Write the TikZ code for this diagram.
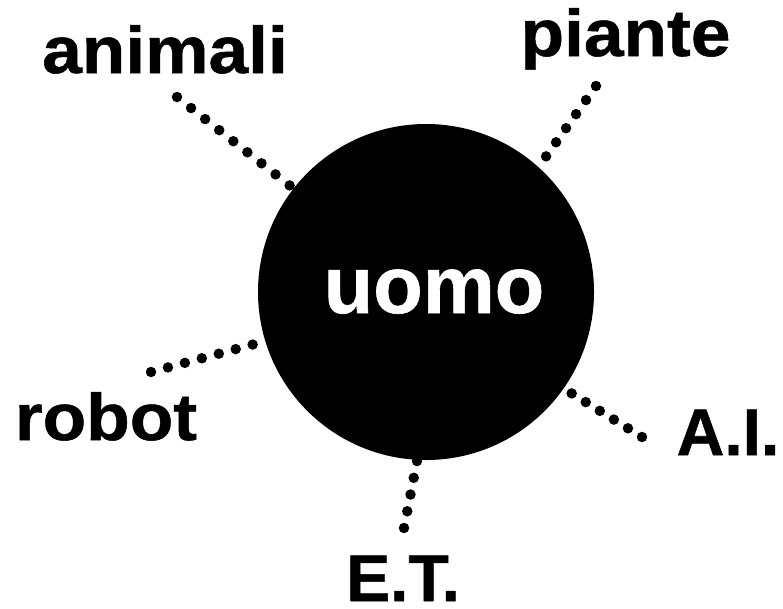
\documentclass[tikz,border=0pt]{standalone}
\usepackage{fontspec}
\setmainfont{Liberation Sans}
\newfontfamily\widefont[FakeStretch=1.08, FakeBold=0.8]{Liberation Sans}
\newfontfamily\heavyfont[FakeBold=0.8]{Liberation Sans}
\begin{document}
\begin{tikzpicture}[x=1pt,y=-1pt,
  lab/.style={font=\widefont\fontsize{66}{66}\selectfont\bfseries, inner sep=0pt, anchor=base, text=black},
  caplab/.style={font=\heavyfont\fontsize{66}{66}\selectfont\bfseries, inner sep=0pt, anchor=base, text=black},
  dotline/.style={line width=10.5pt, line cap=round, dash pattern=on 0pt off #1},
]
\useasboundingbox (0,0) rectangle (783,608);
\node[circle, fill=black, minimum size=336pt, inner sep=0pt] (u) at (426,292) {};
\node[font=\heavyfont\fontsize{81}{81}\selectfont\bfseries, text=white, inner sep=0pt, anchor=base] (uomo) at (434,313) {uomo};

\node[lab] (animali) at (165,73) {animali};
\node[lab] (piante) at (625.5,56) {piante};
\node[lab] (robot) at (106,440) {robot};
\node[caplab] (ai) at (728,455) {A.I.};
\node[caplab] (et) at (403,601) {E.T.};

\coordinate (ca) at (177,97);
\coordinate (cp) at (596,86);
\coordinate (cr) at (151,372);
\coordinate (ci) at (642,437);
\coordinate (ce) at (404,528);

\draw[dotline=17.9pt, shorten >=4pt] (ca) -- (u.142.5);
\draw[dotline=17.25pt, shorten >=12.5pt] (cp) -- (u.48.1);
\draw[dotline=17.55pt, shorten >=12.5pt] (cr) -- (u.197);
\draw[dotline=16.55pt, shorten >=9pt] (ci) -- (u.-35.1);
\draw[dotline=17.05pt, shorten >=0.5pt] (ce) -- (u.-93.2);
\end{tikzpicture}
\end{document}
